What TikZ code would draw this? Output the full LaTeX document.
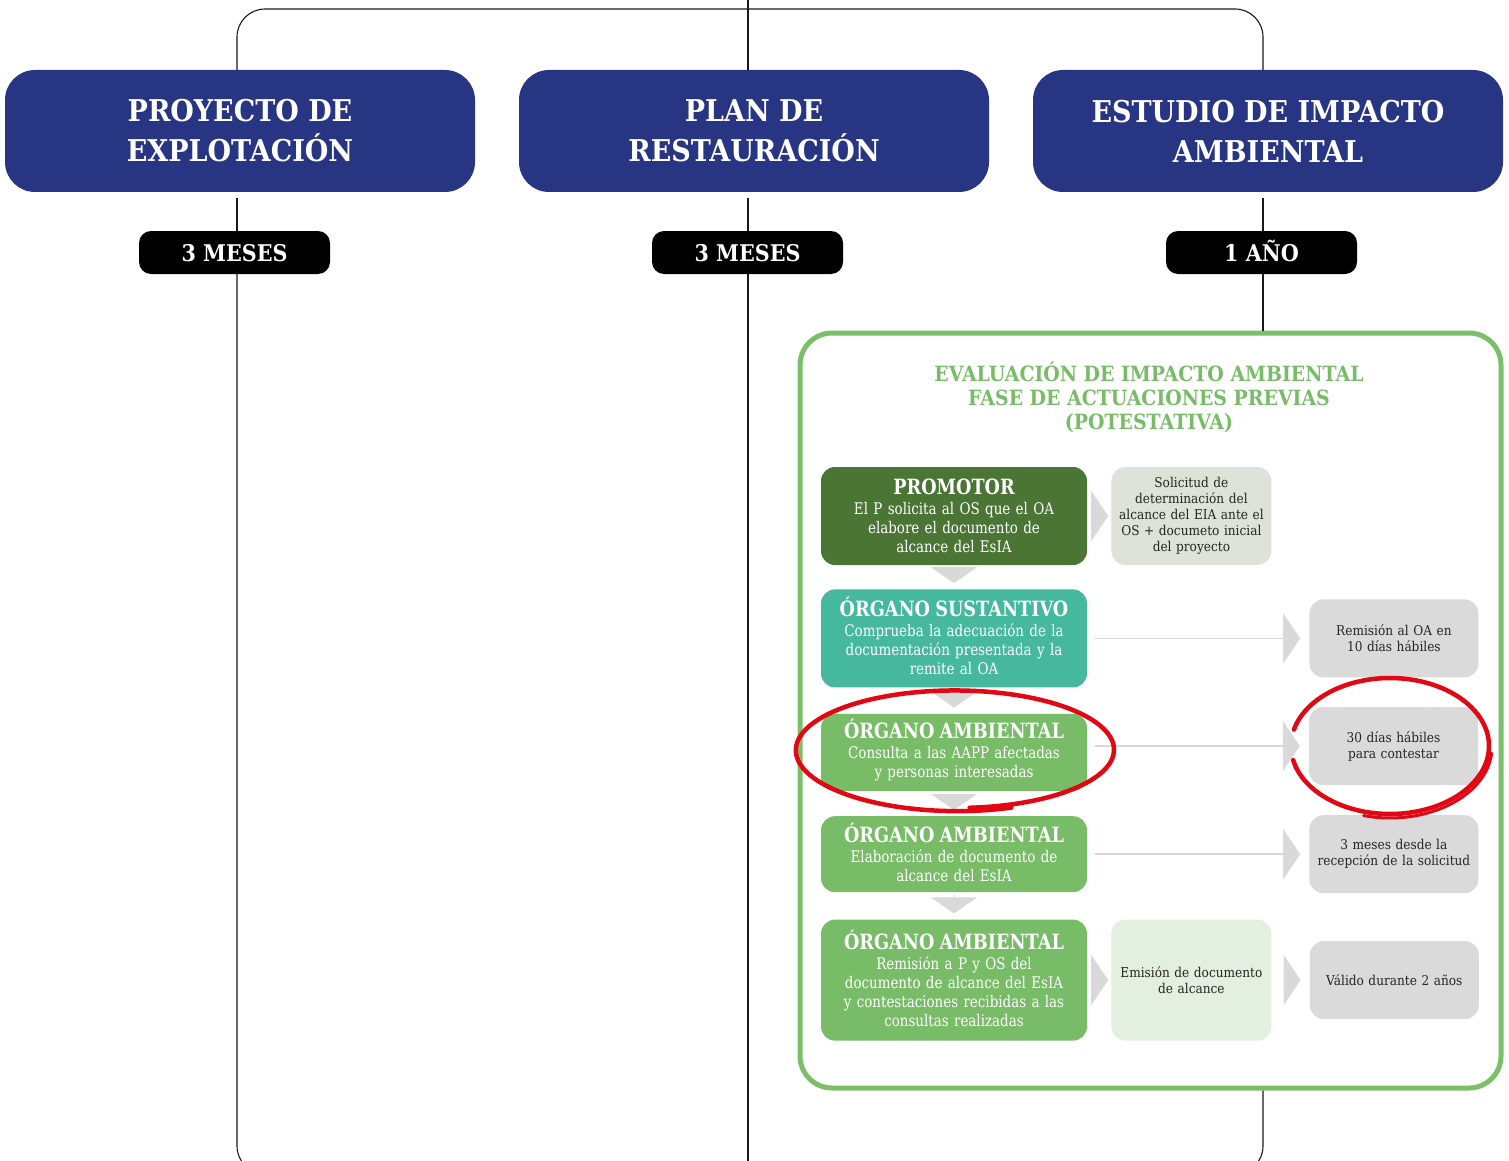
\documentclass[tikz,border=0pt]{standalone}
\usepackage{fontspec}
\setmainfont{DejaVu Serif}[FakeStretch=0.9]
\newfontfamily\cuerpo{DejaVu Serif}[FakeStretch=0.84]
\usetikzlibrary{positioning}
\usetikzlibrary{arrows.meta}
\usetikzlibrary{calc}

\definecolor{azulfase}{HTML}{283583}
\definecolor{verdeosc}{HTML}{4A7535}
\definecolor{turquesa}{HTML}{45B89D}
\definecolor{verde}{HTML}{78BC67}
\definecolor{verdemarco}{HTML}{7CBF6A}
\definecolor{grisverde}{HTML}{DDE3D8}
\definecolor{gris}{HTML}{DADADA}
\definecolor{verdeclaro}{HTML}{E3EFDF}
\definecolor{flecha}{HTML}{D9D9D9}
\definecolor{rojo}{HTML}{E30613}

\newcommand{\rotulo}[1]{{\bfseries\fontsize{21}{24}\selectfont\smash{#1}\vphantom{A}}\\[1pt]}

\tikzset{
  eje/.style={draw=black!90,line width=1.1pt},
  fase/.style={fill=azulfase,text=white,rounded corners=30pt,minimum width=470pt,
    minimum height=122pt,inner sep=0pt,align=center,font=\bfseries\fontsize{30}{40}\selectfont},
  plazo/.style={fill=black,text=white,rounded corners=12pt,minimum width=191pt,
    minimum height=43pt,inner sep=0pt,text height=17pt,text depth=0pt,
    font=\bfseries\fontsize{23}{28}\selectfont},
  marco/.style={draw=verdemarco,line width=5pt,rounded corners=32pt,fill=white,
    minimum width=701pt,minimum height=755pt},
  titulo/.style={text=verde,align=center,font=\bfseries\fontsize{21}{24}\selectfont},
  actor/.style={rounded corners=14pt,text width=250pt,inner xsep=8pt,inner ysep=0pt,
    align=center,text=white,font=\cuerpo\fontsize{16}{19}\selectfont},
  nota/.style={rounded corners=14pt,fill=gris,text width=160pt,inner xsep=4.5pt,inner ysep=0pt,
    minimum height=78pt,align=center,text=black!85,font=\fontsize{13.5}{16}\selectfont},
  caja/.style={nota,text width=150pt,inner xsep=5pt},
  baja/.style={draw=flecha,line width=1pt,-{Triangle[length=16pt,width=46pt]},
    shorten <=3pt,shorten >=6pt},
  avance/.style={draw=flecha,line width=1.5pt,-{Triangle[length=17pt,width=50pt]}},
  rojo/.style={draw=rojo,line width=4.5pt,line cap=round,line join=round}
}

\begin{document}
\begin{tikzpicture}[x=1pt,y=-1pt]
  \useasboundingbox (0,0) rectangle (1509,1161);
  \clip (0,0) rectangle (1509,1161);

  % ejes del calendario
  \coordinate (ejeA) at (237,9);
  \coordinate (ejeC) at (1263,9);
  \coordinate (ejeB) at (748,0);
  \coordinate (pieA) at (237,1174);
  \coordinate (pieC) at (1263,1174);
  \coordinate (pieB) at (748,1161);

  % fases
  \node[fase] (proj) at (240,131) {PROYECTO DE\\EXPLOTACIÓN};
  \node[fase] (plan) at (754,131) {PLAN DE\\RESTAURACIÓN};
  \node[fase] (eia) at (1268,131) {ESTUDIO DE IMPACTO\\AMBIENTAL};

  \node[plazo] (mesA) at (234.5,252.5) {3 MESES};
  \node[plazo] (mesB) at (747.5,252.5) {3 MESES};
  \node[plazo] (mesC) at (1261.5,252.5) {1 AÑO};

  % evaluacion de impacto ambiental
  \node[marco] (marco) at (1150.5,710.5) {};
  \node[titulo] (tit) at (1149,397)
    {EVALUACIÓN DE IMPACTO AMBIENTAL\\FASE DE ACTUACIONES PREVIAS\\(POTESTATIVA)};

  \node[actor,fill=verdeosc,minimum height=98pt] (prom) at (954,516)
    {\rotulo{PROMOTOR}El P solicita al OS que el OA\\elabore el documento de\\alcance del EsIA};
  \node[actor,fill=turquesa,minimum height=98pt,below=24pt of prom] (sust)
    {\rotulo{ÓRGANO SUSTANTIVO}Comprueba la adecuación de la\\documentación presentada y la\\remite al OA};
  \node[actor,fill=verde,minimum height=77pt,below=26pt of sust] (amb1)
    {\rotulo{ÓRGANO AMBIENTAL}Consulta a las AAPP afectadas\\y personas interesadas};
  \node[actor,fill=verde,minimum height=76pt,below=25pt of amb1] (amb2)
    {\rotulo{ÓRGANO AMBIENTAL}Elaboración de documento de\\alcance del EsIA};
  \node[actor,fill=verde,minimum height=121pt,below=27pt of amb2] (amb3)
    {\rotulo{ÓRGANO AMBIENTAL}Remisión a P y OS del\\documento de alcance del EsIA\\y contestaciones recibidas a las\\consultas realizadas};

  \node[caja,fill=grisverde,minimum height=98pt,right=24pt of prom] (sol)
    {Solicitud de\\determinación del\\alcance del EIA ante el\\OS + documeto inicial\\del proyecto};
  \node[nota,right=222pt of sust] (rem) {Remisión al OA en\\10 días hábiles};
  \node[nota] (dias) at (1393.5,746) {30 días hábiles\\para contestar};
  \node[nota,right=222pt of amb2] (meses) {3 meses desde la\\recepción de la solicitud};
  \node[caja,fill=verdeclaro,minimum height=121pt,right=24pt of amb3] (emis)
    {Emisión de documento\\de alcance};
  \node[nota,right=38pt of emis] (val) {Válido durante 2 años};

  % lineas del calendario
  \draw[eje,rounded corners=28pt] (proj.north -| ejeA) -- (ejeA) -- (ejeC) -- (eia.north -| ejeC);
  \draw[eje] ([yshift=-6pt]proj.south -| ejeA) -- (mesA.north -| ejeA);
  \draw[eje,rounded corners=28pt] (mesA.south -| ejeA) -- (pieA) -- (pieC) -- (marco.south -| ejeC);
  \draw[eje] ([yshift=-6pt]eia.south -| ejeC) -- (mesC.north -| ejeC);
  \draw[eje] (mesC.south -| ejeC) -- (marco.north -| ejeC);
  \draw[eje] (ejeB) -- (plan.north -| ejeB);
  \draw[eje] ([yshift=-6pt]plan.south -| ejeB) -- (mesB.north -| ejeB);
  \draw[eje] (mesB.south -| ejeB) -- (pieB);

  % flechas
  \draw[baja] (prom) -- (sust);
  \draw[baja] (sust) -- (amb1);
  \draw[baja] (amb1) -- (amb2);
  \draw[baja] (amb2) -- (amb3);
  \draw[avance,shorten <=4pt,shorten >=3pt] (prom) -- (sol);
  \draw[avance,shorten <=8pt,shorten >=9pt] (sust) -- (rem);
  \draw[avance,shorten <=8pt,shorten >=9pt] (amb1.east |- dias.west) -- (dias.west);
  \draw[avance,shorten <=8pt,shorten >=9pt] (amb2) -- (meses);
  \draw[avance,shorten <=4pt,shorten >=3pt] (amb3) -- (emis);
  \draw[avance,shorten <=12pt,shorten >=9pt] (emis) -- (val);

  % marcas a mano
  \draw[rojo] plot[smooth,domain=445:70,samples=90,variable=\t]
    ({956+157*cos(\t)*(1+0.00008*(445-\t))},{750+58*sin(\t)*(1+0.00016*(445-\t))});
  \draw[rojo] plot[smooth,domain=194:528,samples=80,variable=\t]
    ({1390+99*cos(\t)},{746+68*sin(\t)});
  \draw[rojo,line width=3pt] plot[smooth,domain=5:105,samples=30,variable=\t]
    ({1390+102*cos(\t)},{747+71*sin(\t)});
\end{tikzpicture}
\end{document}
